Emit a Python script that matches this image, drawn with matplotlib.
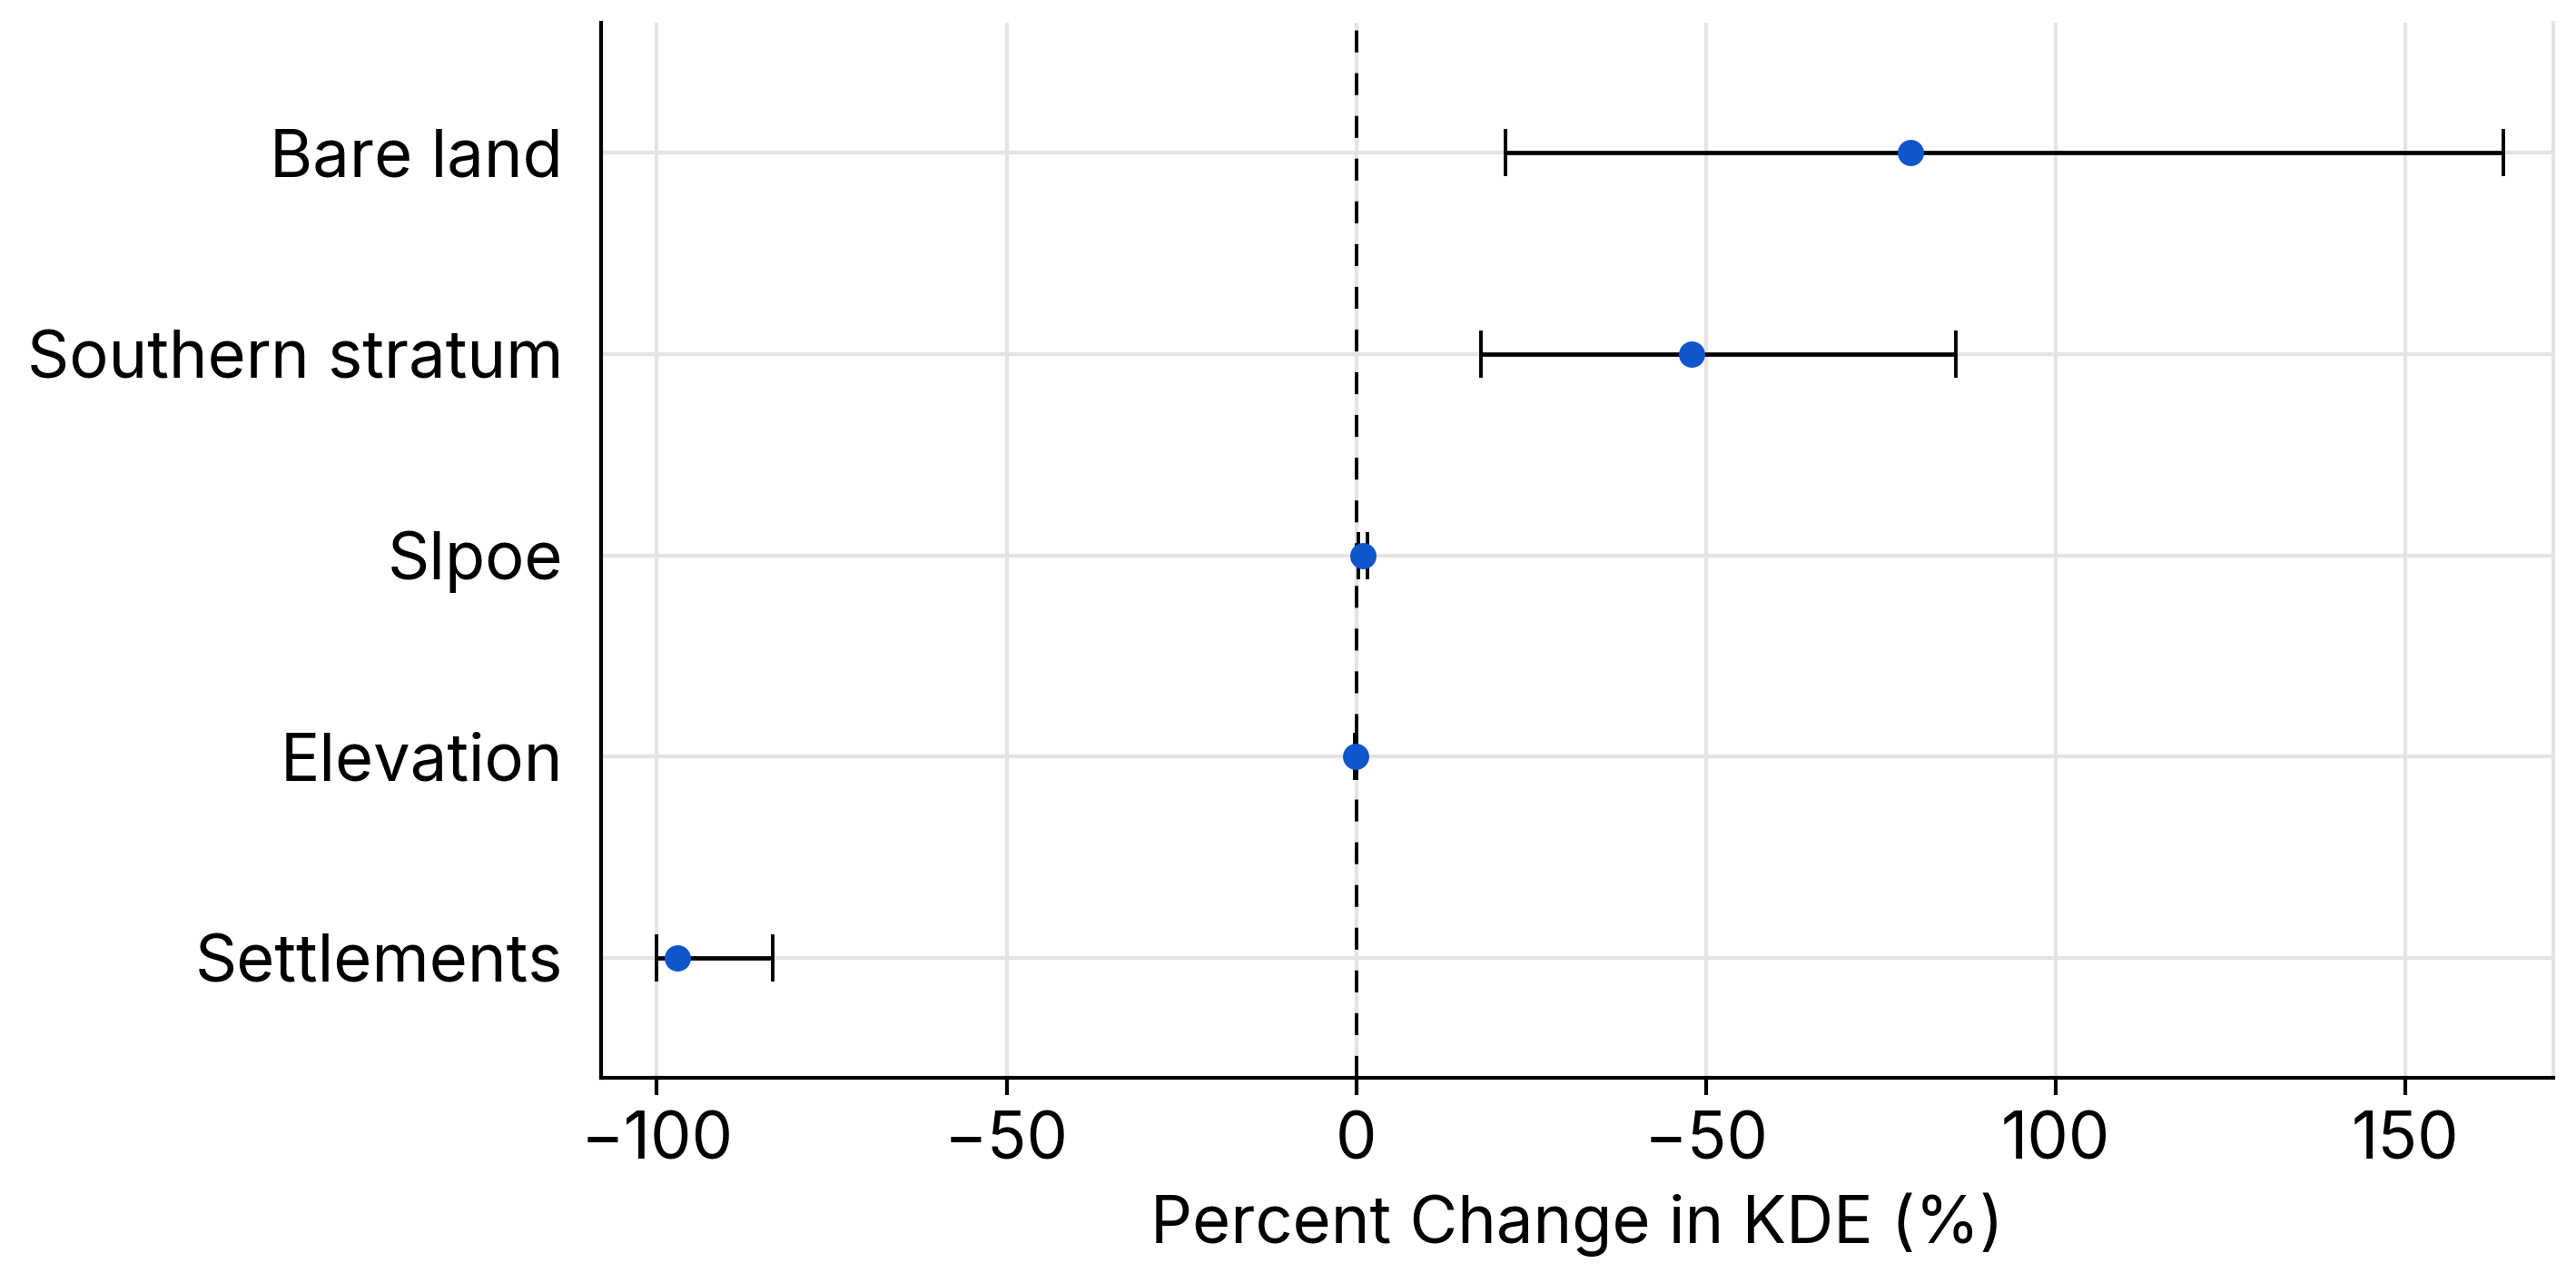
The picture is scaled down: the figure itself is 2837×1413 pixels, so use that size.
import numpy as np
import matplotlib
matplotlib.use("Agg")
import matplotlib.pyplot as plt

# --- Data ---
labels = ["Settlements", "Elevation", "Slpoe", "Southern stratum", "Bare land"]
estimate = [-97.1, -0.05, 0.9, 48.0, 79.2]
ci_low = [-100.0, -0.2, 0.3, 17.9, 21.4]
ci_high = [-83.4, 0.1, 1.6, 85.8, 164.0]

xticks = [-100, -50, 0, 50, 100, 150]
xtick_labels = ["\u2212100", "\u221250", "0", "\u221250", "100", "150"]

plt.rcParams["font.family"] = ["Inter", "DejaVu Sans"]

est = np.array(estimate)
err = np.vstack([est - np.array(ci_low), np.array(ci_high) - est])
y = np.arange(len(labels))

fig = plt.figure(figsize=(14.185, 7.065), dpi=200)
ax = fig.add_axes([0.2333, 0.16, 0.9912 - 0.2333, 0.9823 - 0.16])

ax.grid(True, color="#e4e4e4", linewidth=1.5, zorder=0)
ax.set_axisbelow(True)

ax.axvline(0, color="black", linewidth=1.4, linestyle=(0, (6.2, 5.9)), zorder=2)
ax.errorbar(est, y, xerr=err, fmt="o", color="#0f55cc", markersize=9.4,
            ecolor="black", elinewidth=1.7, capsize=9.4, capthick=1.4, zorder=3)

ax.set_xlim(-108, 171.2)
ax.set_ylim(-0.595, 4.645)
ax.set_xticks(xticks)
ax.set_xticklabels(xtick_labels)
ax.set_yticks(y)
ax.set_yticklabels(labels)

ax.tick_params(axis="x", length=7, width=1.5, labelsize=26, pad=6)
ax.tick_params(axis="y", length=0, labelsize=26, pad=15)
ax.set_xlabel("Percent Change in KDE (%)", fontsize=26, labelpad=8)

for side in ["left", "bottom"]:
    ax.spines[side].set_linewidth(1.5)
ax.spines["top"].set_visible(False)
ax.spines["right"].set_color("#e4e4e4")
ax.spines["right"].set_linewidth(1.5)

fig.savefig("out.png", dpi=200)
